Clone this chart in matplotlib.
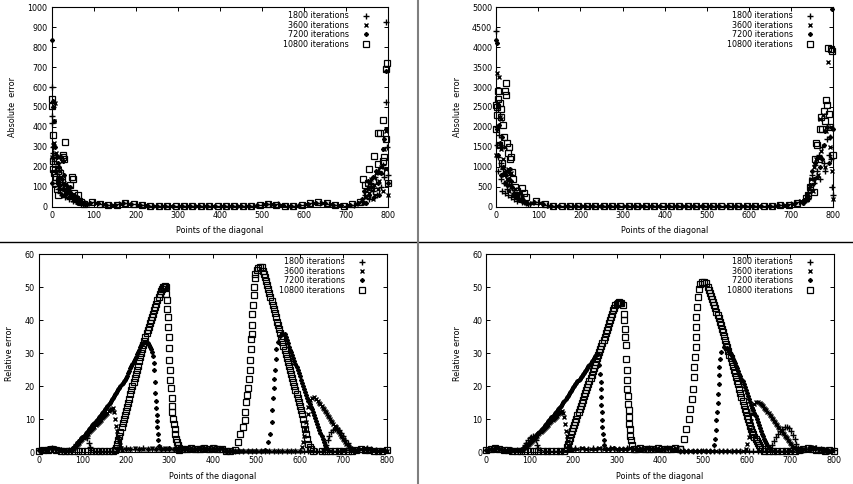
import matplotlib
matplotlib.use("Agg")
import matplotlib.pyplot as plt
from matplotlib.lines import Line2D

# Dades llegides del grafic (x = punt de la diagonal, y = error)
LABELS = ["1800 iterations", "3600 iterations", "7200 iterations", "10800 iterations"]

# ---------------- Error absolut, panell esquerre (0-1000) ----------------
ABS1_1800 = [(0, 600), (0, 455), (1, 420), (2, 300), (3, 250), (4, 270), (6, 230), (8, 180), (10, 260),
             (12, 120), (15, 90), (18, 150), (20, 70), (24, 60), (28, 110), (32, 50), (36, 90), (40, 40),
             (45, 70), (50, 30), (55, 45), (60, 25), (65, 30), (70, 20), (75, 15),
             (740, 30), (745, 60), (750, 90), (755, 40), (760, 120), (765, 80), (770, 150), (775, 60),
             (780, 180), (784, 100), (788, 210), (792, 150), (795, 525), (796, 925), (798, 300), (800, 160)]
ABS1_3600 = [(1, 250), (3, 310), (5, 320), (6, 430), (8, 520), (10, 270), (12, 200), (14, 140), (16, 250),
             (18, 100), (20, 180), (22, 90), (25, 230), (28, 60), (30, 120), (34, 80), (38, 100), (42, 50),
             (46, 60), (50, 35), (55, 40), (60, 25), (65, 20), (70, 18), (80, 12),
             (742, 20), (748, 50), (752, 100), (756, 70), (760, 140), (764, 40), (768, 110), (772, 170),
             (776, 90), (780, 130), (784, 200), (788, 80), (792, 290), (795, 190), (797, 380), (800, 60)]
ABS1_7200 = [(0, 835), (0, 120), (2, 500), (4, 530), (6, 430), (8, 300), (10, 180), (12, 250), (14, 130),
             (16, 220), (18, 200), (20, 110), (22, 250), (24, 140), (26, 90), (28, 230), (30, 160), (32, 60),
             (35, 110), (38, 90), (40, 70), (44, 100), (48, 50), (52, 60), (56, 40), (60, 50), (65, 30),
             (70, 25), (80, 15),
             (740, 40), (744, 80), (748, 20), (752, 130), (756, 60), (760, 100), (764, 150), (768, 50),
             (772, 180), (776, 120), (780, 60), (784, 170), (788, 290), (792, 340), (795, 680), (797, 390),
             (800, 120)]
ABS1_10800 = [(0, 505), (1, 538), (2, 360), (3, 230), (4, 190), (6, 170), (8, 120), (10, 150), (12, 90),
              (14, 180), (16, 60), (18, 130), (20, 170), (22, 100), (24, 140), (26, 250), (28, 260), (30, 240),
              (32, 322), (36, 80), (40, 60), (44, 110), (48, 150), (50, 140), (54, 70), (58, 40), (62, 60),
              (66, 30), (70, 25), (78, 15),
              (742, 140), (746, 110), (750, 60), (754, 120), (756, 190), (760, 100), (764, 130), (768, 255),
              (772, 80), (776, 215), (778, 370), (782, 370), (785, 180), (788, 435), (790, 230), (792, 250),
              (795, 340), (797, 690), (799, 720), (800, 120)]
# zona central (valors petits)
ABS1_MID_1800 = [(80, 18), (100, 22), (120, 14), (140, 10), (160, 12), (180, 18), (200, 14), (220, 8),
                 (240, 6), (260, 5), (280, 6), (300, 5), (320, 5), (340, 4), (360, 5), (380, 4), (400, 5),
                 (420, 6), (440, 5), (460, 6), (480, 5), (500, 7), (520, 14), (540, 12), (560, 6), (580, 5),
                 (600, 8), (620, 18), (640, 20), (660, 16), (680, 8), (700, 6), (720, 10), (740, 22)]
ABS1_MID_3600 = [(85, 16), (105, 20), (125, 12), (145, 9), (165, 15), (185, 16), (205, 10), (225, 7),
                 (245, 5), (265, 6), (285, 5), (305, 4), (325, 5), (345, 5), (365, 4), (385, 5), (405, 6),
                 (425, 5), (445, 5), (465, 6), (485, 6), (505, 12), (525, 13), (545, 8), (565, 5), (585, 6),
                 (605, 12), (625, 20), (645, 19), (665, 12), (685, 7), (705, 8), (725, 14)]
ABS1_MID_7200 = [(90, 20), (110, 18), (130, 11), (150, 10), (170, 19), (190, 15), (210, 9), (230, 6),
                 (250, 6), (270, 5), (290, 4), (310, 5), (330, 4), (350, 5), (370, 5), (390, 4), (410, 5),
                 (430, 6), (450, 5), (470, 5), (490, 8), (510, 15), (530, 11), (550, 7), (570, 5), (590, 7),
                 (610, 15), (630, 21), (650, 18), (670, 10), (690, 7), (710, 9), (730, 18)]
ABS1_MID_10800 = [(95, 22), (115, 16), (135, 10), (155, 11), (175, 18), (195, 13), (215, 8), (235, 6),
                  (255, 5), (275, 5), (295, 4), (315, 5), (335, 5), (355, 4), (375, 5), (395, 5), (415, 6),
                  (435, 5), (455, 6), (475, 6), (495, 10), (515, 14), (535, 9), (555, 6), (575, 5), (595, 7),
                  (615, 17), (635, 22), (655, 17), (675, 9), (695, 6), (715, 12), (735, 26)]

# ---------------- Error absolut, panell dret (0-5000) ----------------
ABS2_1800 = [(0, 4400), (1, 2000), (2, 1550), (3, 1250), (5, 900), (6, 1800), (8, 1550), (10, 700),
             (12, 1100), (14, 400), (16, 950), (18, 600), (20, 350), (22, 800), (25, 450), (28, 300),
             (30, 650), (34, 250), (38, 480), (42, 200), (46, 300), (50, 150), (55, 220), (60, 120),
             (65, 150), (70, 90), (75, 80),
             (730, 120), (735, 200), (740, 350), (745, 500), (750, 800), (754, 600), (758, 1050), (762, 900),
             (766, 1300), (770, 700), (774, 1500), (778, 1100), (782, 900), (786, 1700), (790, 1300),
             (793, 1750), (796, 1200), (798, 500), (800, 300)]
ABS2_3600 = [(0, 1300), (2, 3350), (4, 2600), (6, 3250), (8, 2250), (10, 2200), (12, 1450), (14, 1000),
             (16, 1200), (18, 800), (20, 1500), (22, 900), (24, 600), (26, 700), (28, 950), (30, 400),
             (33, 550), (36, 850), (40, 300), (44, 450), (48, 250), (52, 320), (56, 180), (60, 280),
             (64, 150), (70, 100),
             (732, 150), (738, 300), (744, 450), (748, 700), (752, 400), (756, 1000), (760, 1200), (764, 800),
             (768, 2200), (772, 1400), (776, 2300), (780, 1000), (784, 1900), (788, 3620), (792, 1500),
             (795, 2000), (798, 900), (800, 200)]
ABS2_7200 = [(0, 4180), (1, 4100), (2, 1950), (3, 2500), (4, 1300), (6, 2050), (8, 1600), (10, 800),
             (12, 1500), (14, 1750), (16, 1000), (18, 850), (20, 600), (22, 800), (25, 550), (28, 900),
             (30, 700), (32, 950), (35, 650), (38, 500), (42, 350), (46, 280), (50, 220), (55, 160),
             (60, 200), (65, 120), (72, 90),
             (728, 100), (734, 180), (740, 280), (746, 550), (750, 900), (754, 700), (758, 1100), (762, 750),
             (766, 1250), (770, 1000), (774, 1200), (778, 1550), (782, 1900), (786, 2000), (790, 1100),
             (794, 1750), (798, 4950), (800, 1950)]
ABS2_10800 = [(0, 2550), (0, 1950), (1, 2500), (2, 2300), (4, 2700), (5, 2900), (7, 1550), (8, 2600),
              (10, 2450), (12, 2250), (14, 1100), (16, 2050), (18, 1750), (20, 2900), (22, 2800), (24, 3100),
              (26, 1600), (28, 1350), (30, 1500), (32, 1200), (35, 1250), (38, 860), (40, 700), (45, 500),
              (50, 400), (55, 300), (62, 460), (66, 350), (70, 250),
              (740, 300), (745, 500), (750, 650), (755, 380), (758, 1200), (760, 1600), (763, 1550),
              (766, 1200), (770, 1950), (772, 2250), (775, 1950), (778, 2400), (780, 2150), (783, 2680),
              (786, 2560), (788, 3990), (790, 2330), (792, 2000), (796, 3950), (798, 3900), (800, 1300)]
ABS2_MID_1800 = [(80, 60), (100, 120), (120, 40), (140, 25), (160, 20), (180, 15), (200, 12), (220, 10),
                 (240, 10), (260, 8), (280, 8), (300, 10), (320, 8), (340, 8), (360, 10), (380, 8), (400, 8),
                 (420, 10), (440, 8), (460, 8), (480, 10), (500, 12), (520, 10), (540, 10), (560, 12),
                 (580, 12), (600, 15), (620, 15), (640, 20), (660, 25), (680, 40), (700, 60), (720, 110),
                 (740, 200)]
ABS2_MID_3600 = [(85, 90), (105, 100), (125, 30), (145, 22), (165, 18), (185, 14), (205, 12), (225, 10),
                 (245, 9), (265, 8), (285, 9), (305, 8), (325, 8), (345, 9), (365, 8), (385, 8), (405, 9),
                 (425, 8), (445, 9), (465, 8), (485, 10), (505, 11), (525, 10), (545, 11), (565, 12),
                 (585, 13), (605, 14), (625, 16), (645, 22), (665, 30), (685, 45), (705, 70), (725, 140)]
ABS2_MID_7200 = [(90, 130), (110, 80), (130, 28), (150, 20), (170, 16), (190, 13), (210, 11), (230, 10),
                 (250, 9), (270, 8), (290, 9), (310, 8), (330, 8), (350, 9), (370, 8), (390, 8), (410, 9),
                 (430, 8), (450, 9), (470, 9), (490, 10), (510, 11), (530, 10), (550, 12), (570, 12),
                 (590, 13), (610, 15), (630, 18), (650, 24), (670, 35), (690, 50), (710, 90), (730, 170)]
ABS2_MID_10800 = [(95, 150), (115, 60), (135, 26), (155, 19), (175, 15), (195, 12), (215, 11), (235, 10),
                  (255, 9), (275, 8), (295, 9), (315, 8), (335, 8), (355, 9), (375, 8), (395, 8), (415, 9),
                  (435, 8), (455, 9), (475, 9), (495, 11), (515, 10), (535, 11), (555, 12), (575, 13),
                  (595, 14), (615, 16), (635, 20), (655, 27), (675, 38), (695, 55), (715, 100), (735, 220)]

# ---------------- Error relatiu, panell esquerre ----------------
REL1_1800 = [(0, 0.5), (10, 0.7), (20, 1.0), (30, 1.1), (40, 0.8), (50, 0.5), (60, 0.4),
             (70, 0.6), (75, 1.0), (80, 1.6), (85, 2.3), (90, 3.0), (95, 3.7), (100, 4.3), (105, 5.0),
             (108, 5.3), (111, 4.2), (114, 2.8), (117, 1.5), (120, 0.7),
             (130, 0.3), (140, 0.3), (150, 0.2), (160, 0.3), (170, 0.3),
             (180, 0.9), (190, 1.0), (200, 1.1), (210, 1.0), (220, 0.9), (230, 1.0), (240, 1.1), (250, 1.0),
             (260, 0.9), (270, 1.0), (280, 1.1), (290, 1.0), (300, 1.0), (310, 0.9), (320, 1.1), (330, 1.0),
             (340, 1.0), (350, 0.9), (360, 1.0), (370, 1.1), (380, 1.0), (390, 0.9), (400, 1.0), (410, 1.1),
             (420, 1.0),
             (430, 0.2), (440, 0.2), (450, 0.3), (460, 0.2), (470, 0.2), (480, 0.3), (490, 0.2), (500, 0.2),
             (510, 0.3), (520, 0.2), (530, 0.2), (540, 0.3), (550, 0.2), (560, 0.2), (570, 0.3), (580, 0.2),
             (590, 0.2), (600, 0.3), (610, 0.2), (620, 0.2), (630, 0.3), (640, 0.2), (650, 0.3),
             (656, 0.8), (660, 2.0), (664, 3.5), (668, 5.0), (672, 6.0), (676, 6.7), (680, 7.1), (685, 7.2),
             (690, 6.7), (695, 5.8), (700, 4.8), (705, 3.7), (710, 2.6), (715, 1.6), (720, 0.8), (725, 0.4),
             (735, 0.6), (745, 1.0), (755, 1.2), (765, 0.8), (775, 0.5), (785, 0.4), (795, 0.5)]
REL1_3600 = [(5, 0.4), (15, 0.7), (25, 1.1), (35, 1.2), (45, 0.8), (55, 0.6), (65, 0.4),
             (75, 0.6), (80, 1.2), (85, 1.8), (90, 2.5), (95, 3.2), (100, 3.9), (105, 4.6), (110, 5.3),
             (115, 6.0), (120, 6.7), (125, 7.4), (130, 8.1), (135, 8.8), (140, 9.5), (145, 10.2), (150, 10.9),
             (155, 11.6), (160, 12.3), (165, 13.0), (170, 13.3),
             (173, 12.0), (176, 10.0), (178, 8.0), (180, 6.3), (182, 4.7), (184, 3.3), (186, 2.2), (188, 1.2),
             (191, 0.5),
             (200, 0.9), (210, 1.0), (220, 1.1), (230, 1.0), (240, 1.0), (250, 0.9), (260, 1.1), (270, 1.0),
             (280, 1.0), (290, 1.1), (300, 0.9), (310, 1.0), (320, 1.0), (330, 1.1), (340, 1.0), (350, 0.9),
             (360, 1.0), (370, 1.1), (380, 1.0), (390, 1.0), (400, 0.9), (410, 1.0), (420, 1.1),
             (430, 0.2), (440, 0.3), (450, 0.2), (460, 0.2), (470, 0.3), (480, 0.2), (490, 0.2), (500, 0.3),
             (510, 0.2), (520, 0.2), (530, 0.3), (540, 0.2), (550, 0.2), (560, 0.3), (570, 0.2), (580, 0.2),
             (590, 0.3), (600, 0.4),
             (604, 1.5), (608, 3.0), (610, 5.0), (612, 7.0), (615, 9.0), (618, 11.6), (620, 13.7), (623, 15.7),
             (628, 16.5), (633, 16.6), (638, 16.2),
             (645, 15.0), (650, 14.0), (655, 13.0), (660, 12.0), (665, 11.0), (670, 10.0), (675, 9.0),
             (680, 8.0), (685, 7.0), (690, 6.0), (695, 5.0), (700, 4.0), (705, 3.0), (710, 2.0), (715, 1.2),
             (720, 0.6),
             (730, 0.5), (740, 0.9), (750, 1.1), (760, 0.8), (770, 0.5), (780, 0.4), (790, 0.5), (800, 0.4)]
REL1_3600_B = [(77.5, 0.9), (82.5, 1.5), (87.5, 2.1), (92.5, 2.8), (97.5, 3.5), (102.5, 4.2), (107.5, 4.9),
               (112.5, 5.6), (117.5, 6.3), (122.5, 7.0), (127.5, 7.7), (132.5, 8.4), (137.5, 9.1),
               (142.5, 9.8), (147.5, 10.5), (152.5, 11.2), (157.5, 11.9), (162.5, 12.6), (167.5, 13.2),
               (642.5, 15.6), (647.5, 14.5), (652.5, 13.5), (657.5, 12.5), (662.5, 11.5), (667.5, 10.5),
               (672.5, 9.5), (677.5, 8.5), (682.5, 7.5), (687.5, 6.5), (692.5, 5.5), (697.5, 4.5),
               (702.5, 3.5), (707.5, 2.5), (712.5, 1.6)]
REL1_7200 = [(0, 0.6), (10, 0.9), (20, 1.2), (30, 1.0), (40, 0.8), (50, 0.6), (60, 0.5), (70, 0.7),
             (75, 0.8), (80, 1.5), (85, 2.2), (90, 3.0), (95, 3.7), (100, 4.5), (105, 5.3), (110, 6.1),
             (115, 6.9), (120, 7.7), (125, 8.5), (130, 9.3), (135, 10.1), (140, 10.9), (145, 11.7),
             (150, 12.5), (155, 13.5), (160, 14.5), (165, 15.5), (170, 16.5), (175, 17.5), (180, 18.5),
             (185, 19.5), (190, 20.5), (195, 21.5), (200, 22.5), (205, 24.0), (210, 25.4), (215, 26.8),
             (220, 28.2), (225, 29.6), (230, 31.0), (235, 32.5), (240, 33.2), (245, 33.3), (250, 33.0),
             (255, 32.0), (260, 30.5),
             (262, 29.0), (264, 27.0), (265.5, 24.8), (267, 21.3), (268, 18.0), (269, 15.4), (270, 13.5),
             (271, 11.3), (271.5, 9.4), (272, 7.5), (273, 5.6), (274.5, 3.5), (277, 1.8), (280, 0.8),
             (290, 1.0), (300, 1.1), (310, 1.0), (320, 0.9), (330, 1.0), (340, 1.1), (350, 1.0), (360, 0.9),
             (370, 1.0), (380, 1.1), (390, 1.0), (400, 1.0), (410, 0.9), (420, 1.1),
             (430, 0.2), (440, 0.2), (450, 0.3), (460, 0.2), (470, 0.2), (480, 0.3), (490, 0.2), (500, 0.2),
             (510, 0.3), (520, 0.5),
             (527, 3.0), (531, 5.6), (535, 9.1), (537, 12.7), (538.5, 16.4), (540, 19.5), (541.5, 22.3),
             (543, 25.0), (544.6, 28.3), (546, 31.2), (550, 33.4), (555, 35.2), (560, 36.0), (565, 35.8),
             (570, 34.0), (575, 32.0), (580, 30.2), (585, 28.4), (590, 26.6), (595, 24.8), (600, 23.0),
             (605, 21.0), (610, 19.2), (615, 17.4), (620, 15.6), (625, 13.8), (630, 12.0), (635, 10.2),
             (640, 8.4), (645, 6.6), (650, 4.8), (655, 3.0), (660, 1.5), (665, 0.6),
             (675, 0.3), (685, 0.4), (695, 0.3), (705, 0.5), (715, 0.6), (725, 0.8), (735, 1.0), (745, 0.9),
             (755, 0.6), (765, 0.5), (775, 0.4), (785, 0.5), (795, 0.4)]
REL1_7200_B = [(77.5, 1.2), (82.5, 1.9), (87.5, 2.6), (92.5, 3.4), (97.5, 4.1), (102.5, 4.9), (107.5, 5.7),
               (112.5, 6.5), (117.5, 7.3), (122.5, 8.1), (127.5, 8.9), (132.5, 9.7), (137.5, 10.5),
               (142.5, 11.3), (147.5, 12.1), (152.5, 13.0), (157.5, 14.0), (162.5, 15.0), (167.5, 16.0),
               (172.5, 17.0), (177.5, 18.0), (182.5, 19.0), (187.5, 20.0), (192.5, 21.0), (197.5, 22.0),
               (202.5, 23.2), (207.5, 24.7), (212.5, 26.1), (217.5, 27.5), (222.5, 28.9), (227.5, 30.3),
               (232.5, 31.8), (237.5, 32.9), (242.5, 33.3), (247.5, 33.2), (252.5, 32.6), (257.5, 31.3),
               (567.5, 35.0), (572.5, 33.0), (577.5, 31.1), (582.5, 29.3), (587.5, 27.5), (592.5, 25.7),
               (597.5, 23.9), (602.5, 22.0), (607.5, 20.1), (612.5, 18.3), (617.5, 16.5), (622.5, 14.7),
               (627.5, 12.9), (632.5, 11.1), (637.5, 9.3), (642.5, 7.5), (647.5, 5.7), (652.5, 3.9),
               (657.5, 2.2)]
REL1_10800 = [(0, 0.4), (10, 0.5), (20, 0.7), (30, 0.9), (40, 0.6), (50, 0.4), (60, 0.3), (70, 0.3),
              (80, 0.2), (90, 0.3), (100, 0.3), (110, 0.2), (120, 0.2), (130, 0.3), (140, 0.2), (150, 0.2),
              (160, 0.3), (170, 0.4),
              (175, 0.5), (180, 2.5), (185, 5.0), (190, 7.5), (195, 10.0), (200, 12.5), (205, 15.0),
              (210, 17.5), (215, 20.0), (220, 22.5), (225, 25.0), (230, 27.5), (235, 30.0), (240, 32.5),
              (245, 35.0), (250, 37.0), (255, 39.0), (260, 41.0), (265, 43.0), (270, 45.0), (275, 47.0),
              (280, 48.8), (285, 50.0), (290, 50.3),
              (292, 50.0), (293, 48.0), (294, 46.0), (295, 43.5), (296, 41.0), (297, 38.0), (298, 35.0),
              (299, 31.5), (300, 28.0), (301, 25.0), (302, 22.0), (303, 19.5), (305, 16.5), (306, 14.0),
              (307, 12.0), (309, 10.0), (310, 8.5), (312, 7.0), (313, 5.5), (315, 4.0), (317, 3.0), (319, 2.0),
              (321, 1.2), (323, 0.6),
              (330, 0.8), (340, 1.0), (350, 1.1), (360, 1.0), (370, 0.9), (380, 1.1), (390, 1.0), (400, 1.1),
              (410, 0.9), (420, 1.0), (430, 0.2), (440, 0.2),
              (450, 0.5), (458, 3.0), (463, 5.6), (469, 7.6), (473, 9.6), (475, 12.1), (477, 15.2),
              (479, 17.2), (481, 19.5), (483, 22.3), (485, 24.8), (486, 27.8), (488, 31.4), (488.5, 34.4),
              (489, 35.9), (490, 38.5), (491, 42.0), (492, 44.5), (494, 47.6), (495, 50.1), (496, 52.8),
              (498, 54.1), (501, 55.3), (504, 55.9), (508, 56.2), (512, 56.0),
              (516, 55.0), (520, 53.0), (525, 50.7), (530, 48.2), (535, 45.8), (540, 43.3), (545, 40.9),
              (550, 38.4), (555, 36.0), (560, 33.5), (565, 31.0), (570, 28.6), (575, 26.1), (580, 23.7),
              (585, 21.2), (590, 18.8), (595, 16.3), (600, 14.0), (605, 11.5), (610, 8.5), (615, 5.5),
              (620, 2.5), (625, 0.8), (630, 0.3),
              (650, 0.3), (660, 0.2), (670, 0.3), (680, 0.2), (690, 0.3), (700, 0.4), (710, 0.3), (720, 0.4),
              (730, 0.6), (740, 0.8), (750, 0.7), (760, 0.5), (770, 0.4), (780, 0.3), (790, 0.4), (800, 0.5)]
REL1_10800_B = [(177.5, 1.3), (182.5, 3.7), (187.5, 6.2), (192.5, 8.7), (197.5, 11.2), (202.5, 13.7),
                (207.5, 16.2), (212.5, 18.7), (217.5, 21.2), (222.5, 23.7), (227.5, 26.2), (232.5, 28.7),
                (237.5, 31.2), (242.5, 33.7), (247.5, 36.0), (252.5, 38.0), (257.5, 40.0), (262.5, 42.0),
                (267.5, 44.0), (272.5, 46.0), (277.5, 47.9), (282.5, 49.4), (287.5, 50.2),
                (517.5, 54.1), (522.5, 51.9), (527.5, 49.4), (532.5, 47.0), (537.5, 44.5), (542.5, 42.1),
                (547.5, 39.6), (552.5, 37.2), (557.5, 34.7), (562.5, 32.2), (567.5, 29.8), (572.5, 27.3),
                (577.5, 24.9), (582.5, 22.4), (587.5, 20.0), (592.5, 17.5), (597.5, 15.1), (602.5, 12.8),
                (607.5, 10.0), (612.5, 7.0), (617.5, 4.0), (622.5, 1.6)]

# ---------------- Error relatiu, panell dret ----------------
REL2_1800 = [(0, 0.6), (10, 1.0), (20, 1.3), (30, 0.9), (40, 0.7), (50, 0.5), (60, 0.5), (70, 0.6),
             (80, 0.6), (84, 1.3), (88, 2.0), (92, 2.8), (96, 3.5), (100, 4.1), (104, 4.6), (108, 5.0),
             (111, 4.6), (114, 3.5), (117, 2.2), (120, 1.2), (124, 0.6),
             (135, 0.3), (145, 0.3), (155, 0.2), (165, 0.3), (175, 0.3), (185, 0.3),
             (195, 1.0), (205, 1.1), (215, 1.0), (225, 0.9), (235, 1.0), (245, 1.1), (255, 1.0), (265, 0.9),
             (275, 1.0), (285, 1.1), (295, 1.0), (305, 1.0), (315, 0.9), (325, 1.1), (335, 1.0), (345, 1.0),
             (355, 0.9), (365, 1.0), (375, 1.1), (385, 1.0), (395, 0.9), (405, 1.0), (415, 1.1), (425, 1.0),
             (435, 1.0),
             (445, 0.2), (455, 0.2), (465, 0.3), (475, 0.2), (485, 0.2), (495, 0.3), (505, 0.2), (515, 0.2),
             (525, 0.3), (535, 0.2), (545, 0.2), (555, 0.3), (565, 0.2), (575, 0.2), (585, 0.3), (595, 0.2),
             (605, 0.2), (615, 0.3), (625, 0.2), (635, 0.2), (645, 0.3),
             (652, 1.0), (657, 2.2), (662, 3.4), (667, 4.6), (672, 5.6), (677, 6.4), (682, 7.1), (687, 7.6),
             (692, 7.7), (697, 7.3), (702, 6.4), (706, 5.2), (710, 3.8), (714, 2.5), (718, 1.3), (722, 0.6),
             (730, 0.5), (740, 0.8), (750, 1.1), (760, 1.3), (770, 0.9), (780, 0.6), (790, 0.4), (800, 0.5)]
REL2_3600 = [(5, 0.5), (15, 0.9), (25, 1.3), (35, 1.0), (45, 0.7), (55, 0.5), (65, 0.6), (75, 0.6),
             (85, 0.8), (90, 1.4), (95, 2.0), (100, 2.7), (105, 3.4), (110, 4.0), (115, 4.7), (120, 5.4),
             (125, 6.0), (130, 6.7), (135, 7.4), (140, 8.0), (145, 8.7), (150, 9.4), (155, 10.0), (160, 10.7),
             (165, 11.4), (170, 12.0), (174, 12.4), (177, 11.8),
             (179, 10.5), (181, 8.5), (183, 6.5), (185, 4.8), (187, 3.2), (189, 2.0), (191, 1.1), (194, 0.5),
             (200, 0.9), (210, 1.0), (220, 1.1), (230, 1.0), (240, 1.0), (250, 0.9), (260, 1.1), (270, 1.0),
             (280, 1.0), (290, 1.1), (300, 0.9), (310, 1.0), (320, 1.0), (330, 1.1), (340, 1.0), (350, 0.9),
             (360, 1.0), (370, 1.1), (380, 1.0), (390, 1.0), (400, 0.9), (410, 1.0), (420, 1.1), (430, 1.0),
             (440, 1.0),
             (450, 0.2), (460, 0.2), (470, 0.3), (480, 0.2), (490, 0.2), (500, 0.3), (510, 0.2), (520, 0.2),
             (530, 0.3), (540, 0.2), (550, 0.2), (560, 0.3), (570, 0.2), (580, 0.2), (590, 0.3),
             (597, 1.0), (601, 2.5), (604, 4.5), (607, 7.0), (609, 9.5), (611, 11.5), (613, 13.2),
             (616, 14.5), (620, 15.2), (625, 15.3), (630, 14.9),
             (635, 14.2), (640, 13.5), (645, 12.7), (650, 11.8), (655, 10.9), (660, 10.0), (665, 9.1),
             (670, 8.2), (675, 7.3), (680, 6.4), (685, 5.5), (690, 4.6), (695, 3.7), (700, 2.8), (705, 1.9),
             (710, 1.1), (715, 0.5),
             (725, 0.5), (735, 0.8), (745, 1.2), (755, 1.4), (765, 1.0), (775, 0.6), (785, 0.4), (795, 0.5)]
REL2_3600_B = [(87.5, 1.1), (92.5, 1.7), (97.5, 2.3), (102.5, 3.0), (107.5, 3.7), (112.5, 4.3), (117.5, 5.0),
               (122.5, 5.7), (127.5, 6.3), (132.5, 7.0), (137.5, 7.7), (142.5, 8.3), (147.5, 9.0),
               (152.5, 9.7), (157.5, 10.3), (162.5, 11.0), (167.5, 11.7),
               (632.5, 14.6), (637.5, 13.9), (642.5, 13.1), (647.5, 12.2), (652.5, 11.3), (657.5, 10.4),
               (662.5, 9.5), (667.5, 8.6), (672.5, 7.7), (677.5, 6.8), (682.5, 5.9), (687.5, 5.0),
               (692.5, 4.1), (697.5, 3.2), (702.5, 2.3), (707.5, 1.5)]
REL2_7200 = [(0, 0.6), (10, 1.0), (20, 1.2), (30, 0.9), (40, 0.7), (50, 0.5), (60, 0.6), (70, 0.7), (80, 0.5),
             (85, 0.8), (90, 1.5), (95, 2.2), (100, 3.0), (105, 3.7), (110, 4.4), (115, 5.1), (120, 5.9),
             (125, 6.6), (130, 7.4), (135, 8.1), (140, 8.9), (145, 9.7), (150, 10.5), (155, 11.3),
             (160, 12.1), (165, 12.9), (170, 13.7), (175, 14.6), (180, 15.6), (185, 16.6), (190, 17.6),
             (195, 18.6), (200, 19.6), (205, 20.5), (210, 21.4), (215, 22.3), (220, 23.2), (225, 24.1),
             (230, 25.0), (235, 26.0), (240, 27.0), (245, 28.0), (250, 29.0), (255, 29.8), (258, 29.6),
             (260.5, 26.3), (262, 23.8), (263, 21.3), (263.6, 19.2), (264.3, 16.7), (265, 14.2), (266, 12.0),
             (266.8, 9.6), (267.5, 7.6), (268.2, 5.6), (270, 3.5), (272, 2.0), (276, 1.0),
             (285, 1.0), (295, 1.1), (305, 1.0), (315, 0.9), (325, 1.0), (335, 1.1), (345, 1.0), (355, 0.9),
             (365, 1.0), (375, 1.1), (385, 1.0), (395, 1.0), (405, 0.9), (415, 1.1), (425, 1.0), (435, 1.0),
             (445, 0.2), (455, 0.2), (465, 0.3), (475, 0.2), (485, 0.2), (495, 0.3), (505, 0.2), (515, 0.3),
             (524, 2.0), (526.6, 4.0), (528, 6.6), (530, 9.6), (531, 12.0), (532.6, 15.0), (534, 17.7),
             (535, 20.7), (535.6, 23.3), (537, 25.8), (537.8, 28.3), (540, 30.4), (547, 31.9), (555, 31.6),
             (560, 30.3), (565, 29.0), (570, 27.6), (575, 26.2), (580, 24.6), (585, 23.0), (590, 21.4),
             (595, 19.8), (600, 18.0), (605, 16.2), (610, 14.4), (615, 12.6), (620, 10.8), (625, 9.0),
             (630, 7.2), (635, 5.6), (640, 4.0), (645, 2.6), (650, 1.4), (655, 0.6),
             (665, 0.3), (675, 0.3), (685, 0.4), (695, 0.3), (705, 0.4), (715, 0.5), (725, 0.7), (735, 1.0),
             (745, 1.3), (755, 1.1), (765, 0.8), (775, 0.5), (785, 0.4), (795, 0.5)]
REL2_7200_B = [(87.5, 1.1), (92.5, 1.8), (97.5, 2.6), (102.5, 3.3), (107.5, 4.0), (112.5, 4.7), (117.5, 5.5),
               (122.5, 6.2), (127.5, 7.0), (132.5, 7.7), (137.5, 8.5), (142.5, 9.3), (147.5, 10.1),
               (152.5, 10.9), (157.5, 11.7), (162.5, 12.5), (167.5, 13.3), (172.5, 14.1), (177.5, 15.1),
               (182.5, 16.1), (187.5, 17.1), (192.5, 18.1), (197.5, 19.1), (202.5, 20.0), (207.5, 20.9),
               (212.5, 21.8), (217.5, 22.7), (222.5, 23.6), (227.5, 24.5), (232.5, 25.5), (237.5, 26.5),
               (242.5, 27.5), (247.5, 28.5), (252.5, 29.4),
               (557.5, 31.0), (562.5, 29.6), (567.5, 28.3), (572.5, 26.9), (577.5, 25.4), (582.5, 23.8),
               (587.5, 22.2), (592.5, 20.6), (597.5, 18.9), (602.5, 17.1), (607.5, 15.3), (612.5, 13.5),
               (617.5, 11.7), (622.5, 9.9), (627.5, 8.1), (632.5, 6.4), (637.5, 4.8), (642.5, 3.3),
               (647.5, 2.0), (652.5, 1.0)]
REL2_10800 = [(0, 0.5), (10, 0.8), (20, 1.2), (30, 0.9), (40, 0.6), (50, 0.5), (60, 0.4), (70, 0.4),
              (80, 0.3), (90, 0.3), (100, 0.2), (110, 0.2), (120, 0.3), (130, 0.2), (140, 0.2), (150, 0.3),
              (160, 0.2), (170, 0.3), (180, 0.4),
              (185, 1.5), (190, 3.4), (195, 5.4), (200, 7.3), (205, 9.2), (210, 11.1), (215, 13.0), (220, 15.0),
              (225, 16.9), (230, 18.8), (235, 20.7), (240, 22.6), (245, 24.5), (250, 26.4), (255, 28.4),
              (260, 30.3), (265, 32.2), (270, 34.1), (275, 36.0), (280, 38.0), (285, 40.0), (290, 42.0),
              (295, 43.8), (300, 45.0), (305, 45.4), (310, 45.2),
              (314, 44.5), (316, 42.0), (317.5, 40.0), (319, 37.4), (320, 35.0), (321, 32.4), (322.6, 28.3),
              (323.5, 25.0), (324, 22.0), (325, 19.2), (326, 17.0), (326.8, 14.7), (327.6, 12.7),
              (328.3, 10.6), (329, 8.6), (330, 6.9), (331, 5.0), (332.6, 3.5), (335.6, 2.0), (339, 1.0),
              (345, 1.0), (355, 1.1), (365, 1.0), (375, 0.9), (385, 1.0), (395, 1.1), (405, 1.0), (415, 0.9),
              (425, 1.0), (435, 1.1), (445, 1.0),
              (447, 1.0), (455, 4.0), (461, 7.0), (466, 10.0), (470, 13.0), (474, 16.0), (476, 19.0),
              (478, 22.8), (479, 25.8), (481, 28.8), (482, 31.9), (482.5, 35.0), (483, 38.0), (484, 41.0),
              (486, 44.0), (487, 47.0), (489, 49.6), (493, 51.0), (497, 51.5), (501, 51.6), (505, 51.2),
              (510, 50.0), (515, 48.2), (520, 46.4), (525, 44.6), (530, 42.6), (535, 40.6), (540, 38.5),
              (545, 36.3), (550, 34.0), (555, 31.8), (560, 29.5), (565, 27.3), (570, 25.0), (575, 22.8),
              (580, 20.5), (585, 18.0), (590, 15.5), (595, 13.2), (600, 11.0), (605, 9.0), (610, 7.0),
              (615, 5.4), (620, 4.0), (625, 2.7), (630, 1.5), (635, 0.8), (640, 0.4),
              (650, 0.3), (660, 0.2), (670, 0.3), (680, 0.2), (690, 0.3), (700, 0.4), (710, 0.3), (720, 0.5),
              (730, 0.8), (740, 1.2), (750, 1.0), (760, 0.7), (770, 0.5), (780, 0.4), (790, 0.5), (800, 0.4)]
REL2_10800_B = [(187.5, 2.4), (192.5, 4.4), (197.5, 6.3), (202.5, 8.2), (207.5, 10.1), (212.5, 12.0),
                (217.5, 14.0), (222.5, 15.9), (227.5, 17.8), (232.5, 19.7), (237.5, 21.6), (242.5, 23.5),
                (247.5, 25.4), (252.5, 27.4), (257.5, 29.3), (262.5, 31.2), (267.5, 33.1), (272.5, 35.0),
                (277.5, 37.0), (282.5, 39.0), (287.5, 41.0), (292.5, 43.0), (297.5, 44.5), (302.5, 45.3),
                (307.5, 45.3),
                (512.5, 49.1), (517.5, 47.3), (522.5, 45.5), (527.5, 43.6), (532.5, 41.6), (537.5, 39.5),
                (542.5, 37.4), (547.5, 35.1), (552.5, 32.9), (557.5, 30.6), (562.5, 28.4), (567.5, 26.1),
                (572.5, 23.9), (577.5, 21.6), (582.5, 19.2), (587.5, 16.7), (592.5, 14.3), (597.5, 12.1),
                (602.5, 10.0), (607.5, 8.0), (612.5, 6.2), (617.5, 4.7), (622.5, 3.3), (627.5, 2.1)]

# Estil dels punts (com gnuplot)
STYLES = [
    dict(marker="+", markersize=4.2, markeredgewidth=1.0),
    dict(marker="x", markersize=3.3, markeredgewidth=1.0),
    dict(marker=(8, 2, 0), markersize=3.2, markeredgewidth=0.8),
    dict(marker="s", markersize=3.8, markeredgewidth=0.9, markerfacecolor="none"),
]

plt.rcParams["font.family"] = "DejaVu Sans"
plt.rcParams["font.size"] = 5.8

fig = plt.figure(figsize=(8.54, 4.84), dpi=100)


def px_rect(x0, y0, x1, y1):
    return [x0 / 854, 1 - y1 / 484, (x1 - x0) / 854, (y1 - y0) / 484]


def make_panel(rect, series, extra, ymax, ystep, ylabel, ylab_x, xlab_y, leg_anchor):
    ax = fig.add_axes(rect)
    for i, pts in enumerate(series):
        allpts = list(pts) + list(extra[i])
        xs = [p[0] for p in allpts]
        ys = [p[1] for p in allpts]
        ax.plot(xs, ys, linestyle="none", color="black", clip_on=False,
                label=LABELS[i], **STYLES[i])
    ax.set_xlim(0, 800)
    ax.set_ylim(0, ymax)
    ax.set_xticks(range(0, 801, 100))
    ax.set_yticks(range(0, ymax + 1, ystep))
    ax.tick_params(direction="in", top=True, right=True, length=3, width=0.7, pad=3)
    for s in ax.spines.values():
        s.set_linewidth(0.8)
    ax.set_xlabel("Points of the diagonal")
    ax.set_ylabel(ylabel)
    ax.xaxis.set_label_coords(0.5, xlab_y)
    ax.yaxis.set_label_coords(ylab_x, 0.5)
    leg = ax.legend(loc="upper right", bbox_to_anchor=leg_anchor, frameon=False,
                    markerfirst=False, handlelength=1.0, handletextpad=1.6,
                    labelspacing=0.05, borderpad=0, borderaxespad=0)
    for t in leg.get_texts():
        t.set_ha("right")
    return ax


make_panel(px_rect(51.7, 7.3, 387.7, 206.7),
           [ABS1_1800, ABS1_3600, ABS1_7200, ABS1_10800],
           [ABS1_MID_1800, ABS1_MID_3600, ABS1_MID_7200, ABS1_MID_10800],
           1000, 100, "Absolute  error", -0.103, -0.095, (0.947, 0.979))
make_panel(px_rect(496.3, 7.3, 833.0, 206.7),
           [ABS2_1800, ABS2_3600, ABS2_7200, ABS2_10800],
           [ABS2_MID_1800, ABS2_MID_3600, ABS2_MID_7200, ABS2_MID_10800],
           5000, 500, "Absolute  error", -0.102, -0.095, (0.944, 0.979))
make_panel(px_rect(39.0, 254.3, 386.7, 452.0),
           [REL1_1800, REL1_3600, REL1_7200, REL1_10800],
           [[], REL1_3600_B, REL1_7200_B, REL1_10800_B],
           60, 10, "Relative error", -0.072, -0.10, (0.94, 0.984))
make_panel(px_rect(486.3, 254.3, 833.7, 452.0),
           [REL2_1800, REL2_3600, REL2_7200, REL2_10800],
           [[], REL2_3600_B, REL2_7200_B, REL2_10800_B],
           60, 10, "Relative error", -0.070, -0.10, (0.942, 0.984))

# Linies separadores entre els quatre grafics
fig.add_artist(Line2D([0, 1], [1 - 242.5 / 484] * 2, transform=fig.transFigure,
                      color="black", linewidth=1.0))
fig.add_artist(Line2D([417.7 / 854] * 2, [0, 1], transform=fig.transFigure,
                      color="#7f7f7f", linewidth=1.5))

fig.savefig("out.png", dpi=100)
